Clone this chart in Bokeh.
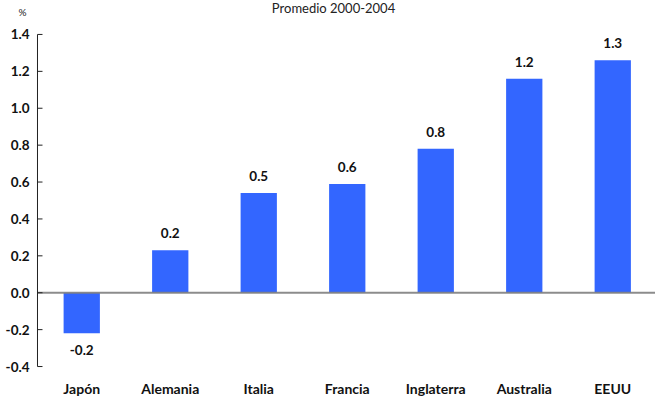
from bokeh.plotting import figure
from bokeh.models import ColumnDataSource, Range1d, Label, FixedTicker
from bokeh.embed import file_html
from bokeh.resources import INLINE

# Average 2000-2004, %
countries = ["Japón", "Alemania", "Italia", "Francia", "Inglaterra", "Australia", "EEUU"]
values = [-0.22, 0.23, 0.54, 0.59, 0.78, 1.16, 1.26]
y_ticks = [-0.4, -0.2, 0.0, 0.2, 0.4, 0.6, 0.8, 1.0, 1.2, 1.4]

FONT = "Lato"
BAR_COLOR = "#3366ff"
TEXT_COLOR = "#111111"
AXIS_COLOR = "#222222"

Y_MIN, Y_MAX = y_ticks[0], y_ticks[-1]
# headroom above the value axis for the heading and the unit,
# and a little room below it so the lowest tick label is not cut
Y_TOP = Y_MAX + 0.184
Y_BOTTOM = Y_MIN - 0.054
UNIT_Y = Y_MAX + 0.119
TITLE_Y = Y_MAX + 0.146
# the value axis sits at the left edge of the first category slot;
# room to its left holds the tick labels
AXIS_X = -0.5
X_START = AXIS_X - 0.418
X_END = 6.483

positions = list(range(len(countries)))
labels = [f"{v:.1f}" for v in values]
pos_src = ColumnDataSource(dict(
    x=[p for p, v in zip(positions, values) if v >= 0],
    top=[v for v in values if v >= 0],
    label=[l for l, v in zip(labels, values) if v >= 0],
))
neg_src = ColumnDataSource(dict(
    x=[p for p, v in zip(positions, values) if v < 0],
    top=[v for v in values if v < 0],
    label=[l for l, v in zip(labels, values) if v < 0],
))
tick_src = ColumnDataSource(dict(
    x=[AXIS_X] * len(y_ticks),
    y=y_ticks,
    label=[f"{t:.1f}" for t in y_ticks],
))

p = figure(
    width=655, height=399,
    x_range=Range1d(X_START, X_END),
    y_range=Range1d(Y_BOTTOM, Y_TOP),
    output_backend="svg", toolbar_location=None,
    min_border_left=0, min_border_right=0,
    min_border_top=0, min_border_bottom=22,
)
p.outline_line_color = None
p.xgrid.visible = False
p.ygrid.visible = False
p.yaxis.visible = False
p.background_fill_color = "white"
p.border_fill_color = "white"

for src in (pos_src, neg_src):
    p.vbar(x="x", top="top", bottom=0, width=0.41, source=src,
           fill_color=BAR_COLOR, line_color=None)

# zero line, from the value axis to the right edge
p.segment(x0=[AXIS_X], y0=[0], x1=[X_END], y1=[0],
          line_color="#808080", line_width=2, line_alpha=0.9)

for src, off in ((pos_src, -17), (neg_src, 17)):
    p.text(x="x", y="top", text="label", source=src, y_offset=off,
           text_align="center", text_baseline="middle",
           text_font={"value": FONT}, text_font_style="bold",
           text_font_size="13.5px", text_color=TEXT_COLOR)

# value axis: line, inward ticks and labels
p.segment(x0=[AXIS_X], y0=[Y_MIN], x1=[AXIS_X], y1=[Y_MAX],
          line_color=AXIS_COLOR, line_width=1)
p.ray(x="x", y="y", source=tick_src, length=5, length_units="screen",
      angle=0, line_color=AXIS_COLOR, line_width=1)
p.text(x="x", y="y", text="label", source=tick_src, x_offset=-8,
       text_align="right", text_baseline="middle",
       text_font={"value": FONT}, text_font_style="bold",
       text_font_size="13.5px", text_color=TEXT_COLOR)

# x axis: category names only
p.xaxis.ticker = FixedTicker(ticks=positions)
p.xaxis.major_label_overrides = {i: c for i, c in zip(positions, countries)}
p.xaxis.axis_line_color = None
p.xaxis.major_tick_line_color = None
p.xaxis.minor_tick_line_color = None
p.xaxis.major_tick_in = 0
p.xaxis.major_tick_out = 0
p.xaxis.major_label_standoff = 3
p.xaxis.major_label_text_font = FONT
p.xaxis.major_label_text_font_style = "bold"
p.xaxis.major_label_text_font_size = "14px"
p.xaxis.major_label_text_color = TEXT_COLOR

p.add_layout(Label(x=2.845, y=TITLE_Y, text="Promedio 2000-2004",
                   text_align="center", text_baseline="middle",
                   text_font=FONT, text_font_size="13px",
                   text_color="#222222"))
p.add_layout(Label(x=-0.669, y=UNIT_Y, text="%",
                   text_align="center", text_baseline="middle",
                   text_font=FONT, text_font_size="10px",
                   text_color="#222222"))

open("out.html", "w").write(file_html(p, INLINE))
